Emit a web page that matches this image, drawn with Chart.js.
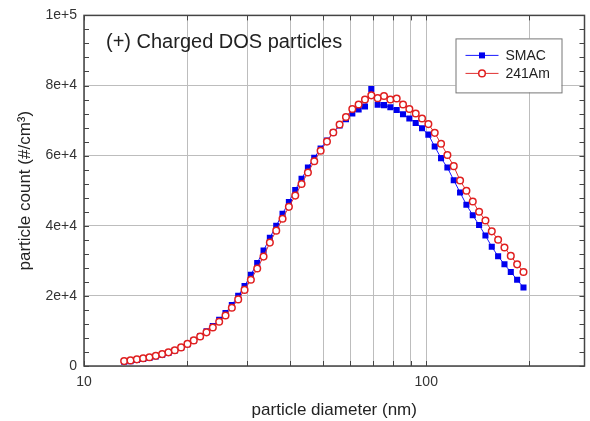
<!DOCTYPE html>
<html>
<head>
<meta charset="utf-8">
<script src="https://cdn.jsdelivr.net/npm/chart.js@4/dist/chart.umd.min.js"></script>
<style>
  html, body { margin: 0; padding: 0; background: #fff; }
  #wrap { width: 590px; height: 421px; }
</style>
</head>
<body>
<div id="wrap"><canvas id="chart"></canvas></div>
<script>
// particle diameter (nm)
var diameters = [13.10, 13.67, 14.27, 14.89, 15.53, 16.21, 16.92, 17.65, 18.42, 19.22,
  20.06, 20.93, 21.85, 22.80, 23.79, 24.83, 25.91, 27.04, 28.22, 29.45,
  30.73, 32.07, 33.47, 34.92, 36.45, 38.03, 39.69, 41.42, 43.22, 45.11,
  47.07, 49.13, 51.27, 53.50, 55.83, 58.27, 60.81, 63.45, 66.22, 69.10,
  72.12, 75.26, 78.54, 81.96, 85.53, 89.26, 93.15, 97.21, 101.44, 105.86,
  110.48, 115.29, 120.32, 125.56, 131.03, 136.74, 142.70, 148.92, 155.41, 162.18,
  169.25, 176.62, 184.32, 192.35];

// particle count (#/cm3)
var smac = [1200, 1400, 1700, 2000, 2300, 2700, 3200, 3700, 4400, 5200,
  6200, 7300, 8500, 9900, 11400, 13200, 15100, 17400, 20000, 22800,
  26000, 29400, 32900, 36600, 40000, 43400, 46800, 50200, 53400, 56600,
  59400, 62000, 64300, 66600, 68600, 70400, 72000, 73200, 74000, 79000,
  74500, 74400, 73800, 73000, 71800, 70600, 69300, 67800, 66000, 62600,
  59300, 56600, 53000, 49500, 46000, 43000, 40200, 37200, 34000, 31300,
  29000, 26800, 24600, 22400];

var am241 = [1400, 1600, 1900, 2200, 2500, 2900, 3400, 3900, 4500, 5300,
  6300, 7300, 8400, 9600, 11000, 12600, 14400, 16600, 19000, 21700,
  24600, 27800, 31200, 35200, 38600, 42000, 45400, 48600, 51900, 55200,
  58400, 61400, 64000, 66600, 68900, 71000, 73300, 74600, 76000, 77200,
  76400, 77000, 76000, 76300, 74600, 73300, 72000, 70600, 69000, 66500,
  63400, 60200, 57000, 52900, 50000, 46900, 44000, 41500, 38400, 36000,
  33800, 31400, 29000, 26800];

var xGrid = [10, 20, 30, 40, 50, 60, 70, 80, 90, 100, 200];
var xLabels = [10, 100];
var yLabels = ['0', '2e+4', '4e+4', '6e+4', '8e+4', '1e+5'];
var titleText = '(+) Charged DOS particles';

function toPoints(ys) {
  return diameters.map(function (d, i) { return { x: d, y: ys[i] }; });
}

var extras = {
  id: 'extras',
  afterDraw: function (chart) {
    var ctx = chart.ctx, a = chart.chartArea;
    var x = chart.scales.x, y = chart.scales.y;
    ctx.save();

    // minor ticks, inside
    ctx.strokeStyle = '#444';
    ctx.lineWidth = 1;
    ctx.beginPath();
    for (var v = 0; v <= 100000; v += 4000) {
      var py = Math.round(y.getPixelForValue(v)) + 0.5;
      ctx.moveTo(a.left, py); ctx.lineTo(a.left + 5, py);
      ctx.moveTo(a.right, py); ctx.lineTo(a.right - 5, py);
    }
    xGrid.forEach(function (g) {
      var px = Math.round(x.getPixelForValue(g)) + 0.5;
      ctx.moveTo(px, a.bottom); ctx.lineTo(px, a.bottom - 5);
      ctx.moveTo(px, a.top); ctx.lineTo(px, a.top + 5);
    });
    ctx.stroke();

    // frame
    ctx.strokeStyle = '#444';
    ctx.lineWidth = 1.5;
    ctx.strokeRect(a.left, a.top, a.right - a.left, a.bottom - a.top);

    // title inside the plot
    ctx.fillStyle = '#222';
    ctx.font = '20px "Liberation Sans", Arial, sans-serif';
    ctx.textAlign = 'left';
    ctx.textBaseline = 'middle';
    ctx.fillText(titleText, a.left + 22, a.top + 27);

    // legend box
    var bx = a.right - 129, by = a.top + 23, bw = 106, bh = 54;
    ctx.fillStyle = '#fff';
    ctx.fillRect(bx, by, bw, bh);
    ctx.strokeStyle = '#777';
    ctx.lineWidth = 1;
    ctx.strokeRect(bx + 0.5, by + 0.5, bw, bh);
    ctx.font = '14px "Liberation Sans", Arial, sans-serif';
    chart.data.datasets.forEach(function (ds, i) {
      var ly = by + 17 + i * 18;
      ctx.strokeStyle = ds.borderColor;
      ctx.lineWidth = 1;
      ctx.beginPath();
      ctx.moveTo(bx + 10, ly); ctx.lineTo(bx + 43, ly);
      ctx.stroke();
      ctx.fillStyle = ds.pointBackgroundColor;
      ctx.strokeStyle = ds.pointBorderColor;
      ctx.lineWidth = ds.pointBorderWidth;
      ctx.beginPath();
      if (ds.pointStyle === 'rect') {
        ctx.rect(bx + 23.5, ly - 3, 6, 6);
      } else {
        ctx.arc(bx + 26.5, ly, ds.pointRadius, 0, Math.PI * 2);
      }
      ctx.fill();
      if (ds.pointBorderWidth > 0) ctx.stroke();
      ctx.fillStyle = '#222';
      ctx.fillText(ds.label, bx + 50, ly + 1);
    });
    ctx.restore();
  }
};

new Chart(document.getElementById('chart'), {
  type: 'line',
  data: {
    datasets: [{
      label: 'SMAC',
      data: toPoints(smac),
      borderColor: '#1a1aff',
      borderWidth: 1,
      pointStyle: 'rect',
      pointRadius: 4.3,
      pointBackgroundColor: '#0000ee',
      pointBorderColor: '#0000ee',
      pointBorderWidth: 0,
      order: 2
    }, {
      label: '241Am',
      data: toPoints(am241),
      borderColor: '#e03030',
      borderWidth: 1,
      pointStyle: 'circle',
      pointRadius: 3.3,
      pointBackgroundColor: '#ffffff',
      pointBorderColor: '#e02020',
      pointBorderWidth: 1.5,
      order: 1
    }]
  },
  options: {
    responsive: true,
    maintainAspectRatio: false,
    animation: false,
    layout: { padding: { top: 14, right: 2, left: 0, bottom: 0 } },
    plugins: {
      legend: { display: false },
      tooltip: { enabled: false }
    },
    scales: {
      x: {
        type: 'logarithmic',
        min: 10,
        max: 290,
        afterBuildTicks: function (scale) {
          scale.ticks = xGrid.map(function (v) { return { value: v }; });
        },
        afterFit: function (scale) { scale.height = 55; },
        grid: { color: '#bdbdbd', lineWidth: 1, drawTicks: false },
        border: { display: false },
        ticks: {
          autoSkip: false,
          maxRotation: 0,
          padding: 8,
          color: '#333',
          font: { family: '"Liberation Sans", Arial, sans-serif', size: 14 },
          callback: function (value) {
            return xLabels.indexOf(value) >= 0 ? String(value) : '';
          }
        },
        title: {
          display: true,
          text: 'particle diameter (nm)',
          color: '#222',
          padding: { top: 0, bottom: 0 },
          font: { family: '"Liberation Sans", Arial, sans-serif', size: 17 }
        }
      },
      y: {
        min: 0,
        max: 100000,
        afterFit: function (scale) { scale.width = 84; },
        grid: { color: '#bdbdbd', lineWidth: 1, drawTicks: false },
        border: { display: false },
        ticks: {
          stepSize: 20000,
          padding: 7,
          color: '#333',
          font: { family: '"Liberation Sans", Arial, sans-serif', size: 14 },
          callback: function (value) {
            return yLabels[Math.round(value / 20000)];
          }
        },
        title: {
          display: true,
          text: 'particle count (#/cm³)',
          color: '#222',
          padding: { top: 15, bottom: 0 },
          font: { family: '"Liberation Sans", Arial, sans-serif', size: 17 }
        }
      }
    }
  },
  plugins: [extras]
});
</script>
</body>
</html>
